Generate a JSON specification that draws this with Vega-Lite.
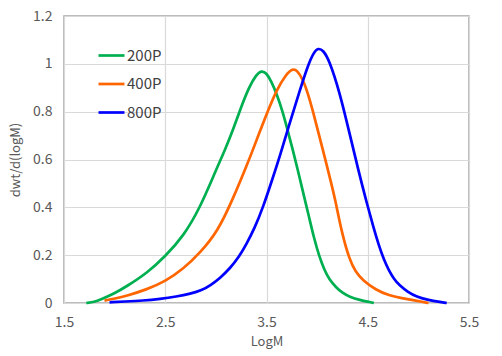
{
  "$schema": "https://vega.github.io/schema/vega-lite/v6.json",
  "autosize": {"type": "none"},
  "padding": {"left": 64, "top": 16, "right": 33, "bottom": 53},
  "width": 405,
  "height": 287,
  "background": "white",
  "config": {
    "font": "Noto Sans CJK JP",
    "view": {"stroke": "#a6a6a6", "strokeWidth": 1.5},
    "axis": {
      "gridColor": "#d9d9d9",
      "gridWidth": 1.2,
      "domain": false,
      "ticks": false,
      "labelFlush": false,
      "labelColor": "#595959",
      "labelFontSize": 14,
      "titleColor": "#595959",
      "titleFontSize": 13,
      "titleFontWeight": "normal"
    }
  },
  "data": {
    "values": [
      {"s": "200P", "x": 1.72, "y": 0},
      {"s": "200P", "x": 1.80, "y": 0.004},
      {"s": "200P", "x": 1.86, "y": 0.014},
      {"s": "200P", "x": 2.00, "y": 0.04},
      {"s": "200P", "x": 2.12, "y": 0.07},
      {"s": "200P", "x": 2.32, "y": 0.125},
      {"s": "200P", "x": 2.50, "y": 0.195},
      {"s": "200P", "x": 2.68, "y": 0.28},
      {"s": "200P", "x": 2.84, "y": 0.395},
      {"s": "200P", "x": 3.00, "y": 0.555},
      {"s": "200P", "x": 3.09, "y": 0.64},
      {"s": "200P", "x": 3.17, "y": 0.725},
      {"s": "200P", "x": 3.25, "y": 0.82},
      {"s": "200P", "x": 3.33, "y": 0.905},
      {"s": "200P", "x": 3.40, "y": 0.955},
      {"s": "200P", "x": 3.45, "y": 0.972},
      {"s": "200P", "x": 3.50, "y": 0.962},
      {"s": "200P", "x": 3.55, "y": 0.925},
      {"s": "200P", "x": 3.60, "y": 0.875},
      {"s": "200P", "x": 3.66, "y": 0.80},
      {"s": "200P", "x": 3.71, "y": 0.72},
      {"s": "200P", "x": 3.76, "y": 0.64},
      {"s": "200P", "x": 3.81, "y": 0.555},
      {"s": "200P", "x": 3.86, "y": 0.465},
      {"s": "200P", "x": 3.92, "y": 0.36},
      {"s": "200P", "x": 3.97, "y": 0.27},
      {"s": "200P", "x": 4.02, "y": 0.196},
      {"s": "200P", "x": 4.07, "y": 0.14},
      {"s": "200P", "x": 4.12, "y": 0.098},
      {"s": "200P", "x": 4.19, "y": 0.064},
      {"s": "200P", "x": 4.25, "y": 0.042},
      {"s": "200P", "x": 4.32, "y": 0.026},
      {"s": "200P", "x": 4.42, "y": 0.012},
      {"s": "200P", "x": 4.53, "y": 0.003},
      {"s": "200P", "x": 4.56, "y": 0},
      {"s": "400P", "x": 1.90, "y": 0.01},
      {"s": "400P", "x": 2.00, "y": 0.018},
      {"s": "400P", "x": 2.12, "y": 0.03},
      {"s": "400P", "x": 2.32, "y": 0.057},
      {"s": "400P", "x": 2.50, "y": 0.09},
      {"s": "400P", "x": 2.68, "y": 0.143},
      {"s": "400P", "x": 2.84, "y": 0.208},
      {"s": "400P", "x": 3.02, "y": 0.30},
      {"s": "400P", "x": 3.17, "y": 0.437},
      {"s": "400P", "x": 3.30, "y": 0.57},
      {"s": "400P", "x": 3.37, "y": 0.645},
      {"s": "400P", "x": 3.45, "y": 0.735},
      {"s": "400P", "x": 3.53, "y": 0.82},
      {"s": "400P", "x": 3.60, "y": 0.89},
      {"s": "400P", "x": 3.69, "y": 0.955},
      {"s": "400P", "x": 3.76, "y": 0.98},
      {"s": "400P", "x": 3.80, "y": 0.974},
      {"s": "400P", "x": 3.86, "y": 0.935},
      {"s": "400P", "x": 3.91, "y": 0.875},
      {"s": "400P", "x": 3.96, "y": 0.80},
      {"s": "400P", "x": 4.02, "y": 0.70},
      {"s": "400P", "x": 4.09, "y": 0.585},
      {"s": "400P", "x": 4.14, "y": 0.50},
      {"s": "400P", "x": 4.18, "y": 0.43},
      {"s": "400P", "x": 4.24, "y": 0.30},
      {"s": "400P", "x": 4.32, "y": 0.18},
      {"s": "400P", "x": 4.38, "y": 0.13},
      {"s": "400P", "x": 4.45, "y": 0.095},
      {"s": "400P", "x": 4.58, "y": 0.055},
      {"s": "400P", "x": 4.71, "y": 0.031},
      {"s": "400P", "x": 4.84, "y": 0.02},
      {"s": "400P", "x": 4.95, "y": 0.012},
      {"s": "400P", "x": 5.04, "y": 0.005},
      {"s": "400P", "x": 5.10, "y": 0},
      {"s": "800P", "x": 1.95, "y": 0.003},
      {"s": "800P", "x": 2.10, "y": 0.006},
      {"s": "800P", "x": 2.28, "y": 0.01},
      {"s": "800P", "x": 2.45, "y": 0.017},
      {"s": "800P", "x": 2.61, "y": 0.027},
      {"s": "800P", "x": 2.75, "y": 0.039},
      {"s": "800P", "x": 2.86, "y": 0.053},
      {"s": "800P", "x": 2.95, "y": 0.075},
      {"s": "800P", "x": 3.04, "y": 0.104},
      {"s": "800P", "x": 3.14, "y": 0.145},
      {"s": "800P", "x": 3.23, "y": 0.194},
      {"s": "800P", "x": 3.30, "y": 0.245},
      {"s": "800P", "x": 3.38, "y": 0.31},
      {"s": "800P", "x": 3.47, "y": 0.405},
      {"s": "800P", "x": 3.56, "y": 0.52},
      {"s": "800P", "x": 3.64, "y": 0.625},
      {"s": "800P", "x": 3.72, "y": 0.74},
      {"s": "800P", "x": 3.83, "y": 0.89},
      {"s": "800P", "x": 3.91, "y": 0.995},
      {"s": "800P", "x": 3.97, "y": 1.05},
      {"s": "800P", "x": 4.01, "y": 1.066},
      {"s": "800P", "x": 4.06, "y": 1.057},
      {"s": "800P", "x": 4.12, "y": 1.015},
      {"s": "800P", "x": 4.22, "y": 0.885},
      {"s": "800P", "x": 4.32, "y": 0.71},
      {"s": "800P", "x": 4.41, "y": 0.55},
      {"s": "800P", "x": 4.48, "y": 0.435},
      {"s": "800P", "x": 4.56, "y": 0.31},
      {"s": "800P", "x": 4.61, "y": 0.24},
      {"s": "800P", "x": 4.66, "y": 0.18},
      {"s": "800P", "x": 4.71, "y": 0.135},
      {"s": "800P", "x": 4.76, "y": 0.10},
      {"s": "800P", "x": 4.81, "y": 0.075},
      {"s": "800P", "x": 4.90, "y": 0.045},
      {"s": "800P", "x": 4.98, "y": 0.027},
      {"s": "800P", "x": 5.10, "y": 0.012},
      {"s": "800P", "x": 5.22, "y": 0.004},
      {"s": "800P", "x": 5.28, "y": 0}
    ]
  },
  "mark": {"type": "line", "interpolate": "basis", "strokeWidth": 2.7},
  "encoding": {
    "x": {
      "field": "x", "type": "quantitative",
      "scale": {"domain": [1.5, 5.5], "nice": false, "zero": false},
      "axis": {"values": [1.5, 2.5, 3.5, 4.5, 5.5], "format": ".1f", "title": "LogM", "labelPadding": 12, "titlePadding": 6}
    },
    "y": {
      "field": "y", "type": "quantitative",
      "scale": {"domain": [0, 1.2], "nice": false},
      "axis": {"values": [0, 0.2, 0.4, 0.6, 0.8, 1, 1.2], "format": ".1~f", "title": "dwt/d(logM)", "labelPadding": 12, "titlePadding": 10}
    },
    "color": {
      "field": "s", "type": "nominal",
      "scale": {"domain": ["200P", "400P", "800P"], "range": ["#00B050", "#FF6600", "#0000FF"]},
      "legend": {
        "title": null,
        "orient": "none",
        "legendX": 33,
        "legendY": 25,
        "symbolType": "stroke",
        "symbolSize": 676,
        "symbolStrokeWidth": 2.7,
        "labelFontSize": 15,
        "labelColor": "#404040",
        "labelOffset": 1,
        "rowPadding": 5.5,
        "padding": 0
      }
    }
  }
}
